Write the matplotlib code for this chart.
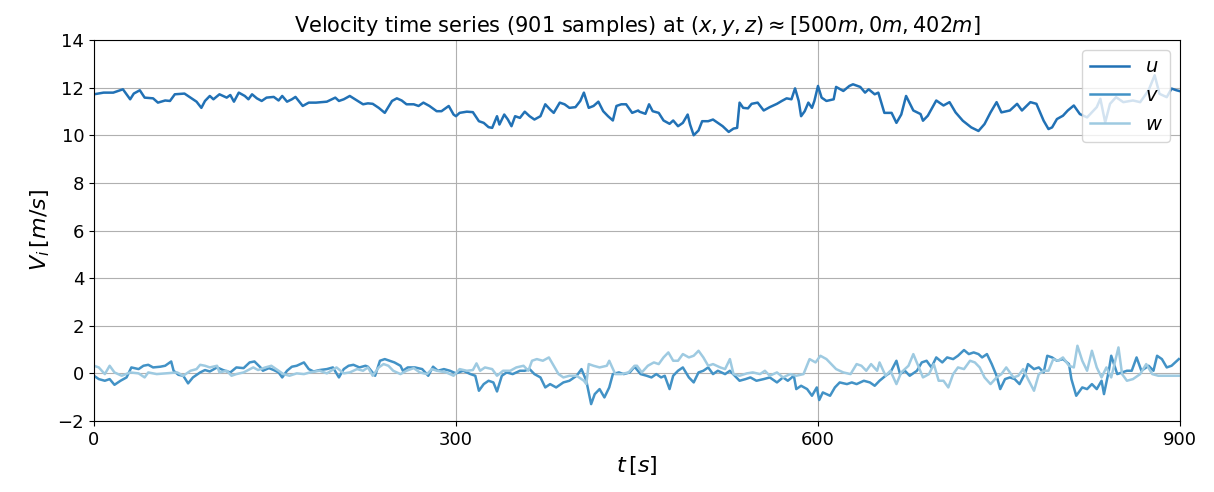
import matplotlib
matplotlib.use("Agg")
import matplotlib.pyplot as plt

# values (every few seconds)
u_t = [0, 8, 16, 24, 30, 33, 38, 42, 49, 53, 59, 63, 67, 75, 80, 85, 89, 92, 96, 99,
       104, 110, 113, 116, 120, 125, 128, 131, 135, 139, 143, 149, 153, 156, 160, 164, 167, 173, 178, 184,
       193, 200, 203, 207, 212, 218, 223, 227, 231, 236, 241, 247, 251, 255, 259, 265, 269, 273, 278, 284,
       288, 294, 298, 300, 303, 309, 314, 319, 323, 327, 330, 334, 336, 340, 343, 346, 349, 353, 357, 361,
       365, 370, 374, 378, 381, 386, 390, 394, 399, 403, 406, 410, 414, 418, 422, 426, 430, 433, 437, 441,
       446, 451, 452, 457, 460, 463, 468, 472, 477, 480, 484, 488, 492, 494, 497, 501, 504, 509, 513, 517,
       521, 526, 530, 533, 535, 538, 542, 545, 550, 555, 560, 566, 570, 574, 578, 581, 584, 586, 589, 592,
       595, 597, 600, 603, 607, 613, 615, 621, 626, 629, 635, 639, 642, 647, 650, 655, 661, 665, 669, 673,
       679, 685, 687, 691, 698, 704, 709, 714, 720, 727, 733, 738, 743, 748, 752, 759, 765, 769, 776, 781,
       787, 791, 794, 798, 803, 807, 812, 817, 823, 831, 834, 838, 842, 847, 853, 861, 867, 874, 879, 883,
       889, 893, 897, 900]
u_vals = [11.72, 11.79, 11.79, 11.93, 11.51, 11.75, 11.89, 11.58, 11.55, 11.37, 11.46, 11.44, 11.72, 11.75, 11.58, 11.41, 11.15, 11.44, 11.65, 11.51,
          11.72, 11.58, 11.69, 11.41, 11.79, 11.65, 11.51, 11.72, 11.55, 11.44, 11.58, 11.61, 11.46, 11.65, 11.41, 11.51, 11.61, 11.23, 11.37, 11.37,
          11.41, 11.58, 11.44, 11.51, 11.65, 11.46, 11.30, 11.34, 11.32, 11.15, 10.94, 11.44, 11.55, 11.46, 11.30, 11.30, 11.23, 11.37, 11.23, 11.01,
          11.01, 11.23, 10.87, 10.80, 10.94, 10.99, 10.97, 10.59, 10.52, 10.34, 10.31, 10.80, 10.45, 10.87, 10.66, 10.38, 10.80, 10.73, 10.99, 10.80,
          10.66, 10.80, 11.30, 11.08, 10.94, 11.37, 11.30, 11.15, 11.18, 11.44, 11.79, 11.15, 11.23, 11.41, 11.01, 10.80, 10.62, 11.23, 11.30, 11.30,
          10.94, 11.04, 10.99, 10.90, 11.30, 11.01, 10.94, 10.62, 10.48, 10.62, 10.38, 10.52, 10.87, 10.45, 10.00, 10.20, 10.59, 10.59, 10.66, 10.52,
          10.38, 10.14, 10.28, 10.31, 11.37, 11.15, 11.13, 11.32, 11.37, 11.04, 11.18, 11.32, 11.44, 11.55, 11.51, 11.97, 11.44, 10.80, 11.01, 11.37,
          11.15, 11.44, 12.07, 11.58, 11.44, 11.51, 12.03, 11.86, 12.07, 12.14, 12.03, 11.79, 11.93, 11.72, 11.79, 10.94, 10.94, 10.52, 10.87, 11.65,
          11.04, 10.89, 10.61, 10.82, 11.46, 11.25, 11.39, 10.96, 10.61, 10.33, 10.18, 10.47, 10.96, 11.39, 10.96, 11.04, 11.32, 11.04, 11.39, 11.32,
          10.61, 10.26, 10.33, 10.68, 10.82, 11.04, 11.25, 10.89, 10.75, 11.18, 11.53, 10.54, 11.32, 11.60, 11.39, 11.46, 11.39, 11.89, 12.52, 11.74,
          11.60, 11.96, 11.89, 11.85]

v_t = [0, 4, 9, 13, 17, 22, 27, 31, 37, 41, 45, 49, 55, 59, 64, 66, 70, 74, 78, 82,
       88, 92, 96, 102, 107, 113, 118, 124, 129, 133, 138, 140, 145, 149, 153, 156, 160, 164, 168, 174,
       178, 182, 187, 193, 198, 203, 207, 211, 215, 220, 225, 227, 233, 237, 241, 245, 249, 254, 256, 260,
       266, 272, 277, 281, 285, 290, 295, 300, 306, 312, 316, 319, 323, 327, 331, 334, 338, 342, 347, 353,
       357, 361, 365, 370, 374, 378, 383, 389, 394, 400, 404, 408, 412, 415, 419, 423, 427, 430, 435, 439,
       444, 448, 453, 458, 462, 466, 470, 473, 477, 480, 484, 488, 493, 497, 501, 505, 509, 513, 517, 523,
       527, 531, 535, 540, 544, 549, 555, 560, 566, 571, 575, 580, 582, 586, 591, 595, 599, 601, 604, 610,
       614, 618, 624, 628, 632, 638, 643, 647, 651, 656, 660, 665, 668, 672, 676, 682, 686, 690, 694, 698,
       703, 707, 712, 716, 721, 725, 729, 733, 736, 740, 744, 748, 751, 755, 759, 763, 767, 772, 774, 779,
       783, 787, 790, 794, 798, 803, 808, 810, 814, 819, 823, 827, 831, 835, 837, 841, 843, 848, 852, 856,
       860, 864, 868, 874, 878, 881, 885, 889, 893, 899]
v_vals = [-0.10, -0.24, -0.31, -0.24, -0.48, -0.31, -0.17, 0.25, 0.18, 0.32, 0.36, 0.25, 0.28, 0.32, 0.50, 0.11, -0.06, -0.10, -0.42, -0.17,
          0.04, 0.14, 0.08, 0.25, 0.14, 0.04, 0.25, 0.22, 0.46, 0.50, 0.25, 0.11, 0.22, 0.14, 0.04, -0.17, 0.11, 0.28, 0.32, 0.46,
          0.18, 0.08, 0.14, 0.18, 0.25, -0.17, 0.18, 0.32, 0.36, 0.25, 0.32, 0.28, -0.10, 0.53, 0.60, 0.53, 0.46, 0.32, 0.11, 0.25,
          0.25, 0.18, -0.10, 0.28, 0.11, 0.18, 0.11, 0.00, 0.11, -0.03, -0.10, -0.73, -0.45, -0.31, -0.38, -0.76, -0.10, 0.04, -0.03, 0.11,
          0.11, 0.18, -0.03, -0.17, -0.59, -0.45, -0.59, -0.38, -0.31, -0.10, 0.18, -0.31, -1.29, -0.87, -0.66, -1.01, -0.59, -0.03, 0.04, -0.03,
          0.04, 0.28, -0.03, -0.10, -0.17, -0.03, -0.17, -0.10, -0.66, -0.10, 0.11, 0.25, -0.17, -0.38, 0.04, 0.11, 0.25, -0.03, 0.11, -0.03,
          0.11, -0.10, -0.31, -0.24, -0.17, -0.31, -0.24, -0.17, -0.38, -0.17, -0.31, -0.10, -0.66, -0.52, -0.66, -0.94, -0.59, -1.12, -0.80, -0.94,
          -0.59, -0.38, -0.45, -0.38, -0.45, -0.31, -0.38, -0.52, -0.31, -0.10, 0.04, 0.53, -0.03, 0.11, -0.10, 0.11, 0.46, 0.53, 0.25, 0.67,
          0.46, 0.67, 0.60, 0.74, 0.98, 0.81, 0.88, 0.81, 0.67, 0.81, 0.39, -0.10, -0.66, -0.24, -0.17, -0.24, -0.45, 0.04, 0.39, 0.18,
          0.25, 0.04, 0.74, 0.67, 0.53, 0.60, 0.39, -0.24, -0.94, -0.59, -0.66, -0.45, -0.66, -0.31, -0.87, 0.11, 0.74, -0.03, 0.04, 0.11,
          0.11, 0.67, 0.11, 0.32, 0.11, 0.74, 0.60, 0.25, 0.32, 0.60]

w_t = [0, 4, 9, 13, 17, 23, 30, 37, 42, 45, 52, 59, 69, 74, 80, 85, 88, 92, 96, 102,
       104, 110, 114, 118, 124, 132, 136, 142, 147, 151, 157, 162, 168, 174, 179, 187, 193, 201, 207, 212,
       218, 223, 227, 231, 236, 240, 244, 248, 254, 259, 265, 270, 276, 280, 284, 292, 298, 303, 309, 314,
       317, 320, 324, 330, 334, 339, 345, 350, 356, 360, 363, 367, 372, 377, 381, 385, 389, 394, 400, 406,
       408, 410, 414, 419, 425, 427, 432, 437, 443, 448, 450, 454, 459, 464, 468, 472, 476, 480, 484, 488,
       493, 497, 501, 505, 509, 513, 519, 523, 527, 530, 535, 541, 546, 552, 556, 560, 566, 571, 577, 582,
       588, 593, 598, 602, 607, 611, 615, 621, 627, 632, 636, 640, 644, 649, 651, 656, 660, 665, 669, 675,
       679, 683, 687, 692, 696, 700, 704, 708, 712, 716, 721, 726, 730, 734, 738, 743, 748, 752, 756, 762,
       766, 770, 774, 779, 783, 787, 791, 795, 799, 803, 808, 812, 815, 819, 823, 827, 831, 835, 839, 843,
       849, 852, 856, 861, 867, 872, 877, 882, 889, 899, 900]
w_vals = [0.32, 0.25, -0.03, 0.32, 0.04, -0.10, 0.04, 0.00, -0.17, 0.04, -0.03, 0.00, 0.04, -0.10, 0.11, 0.18, 0.36, 0.32, 0.25, 0.32,
          0.04, 0.11, -0.10, -0.03, 0.04, 0.25, 0.14, 0.25, 0.32, 0.18, -0.03, -0.10, 0.00, -0.03, 0.04, 0.11, 0.00, 0.25, 0.00, 0.04,
          0.18, 0.11, 0.25, -0.10, 0.25, 0.39, 0.32, 0.11, -0.03, 0.11, 0.22, 0.04, -0.03, 0.18, 0.11, 0.04, -0.10, 0.18, 0.11, 0.14,
          0.42, 0.11, 0.25, 0.18, -0.10, 0.11, 0.11, 0.25, 0.32, 0.11, 0.53, 0.60, 0.53, 0.67, 0.32, -0.03, -0.17, -0.10, -0.10, -0.31,
          -0.45, 0.39, 0.32, 0.25, 0.32, 0.53, -0.03, -0.03, 0.04, 0.32, 0.32, 0.04, 0.32, 0.46, 0.39, 0.67, 0.88, 0.53, 0.53, 0.81,
          0.67, 0.74, 0.95, 0.67, 0.32, 0.39, 0.25, 0.18, 0.60, -0.03, -0.10, 0.00, 0.04, -0.03, 0.11, -0.10, 0.04, -0.17, -0.03, -0.10,
          -0.03, 0.60, 0.46, 0.74, 0.60, 0.39, 0.18, 0.04, -0.03, 0.39, 0.32, 0.11, 0.39, 0.11, 0.46, -0.10, 0.11, -0.45, 0.04, 0.32,
          0.81, 0.32, -0.17, -0.03, 0.39, -0.31, -0.31, -0.59, -0.03, 0.25, 0.18, 0.53, 0.46, 0.25, -0.17, -0.45, -0.17, -0.03, 0.25, -0.17,
          -0.10, 0.18, -0.24, -0.73, -0.03, 0.11, 0.11, 0.60, 0.53, 0.67, 0.32, 0.25, 1.16, 0.53, 0.11, 0.95, 0.25, -0.17, 0.25, -0.17,
          1.09, -0.03, -0.31, -0.24, -0.03, 0.39, -0.03, -0.10, -0.10, -0.10, -0.10]

series = [("$u$", u_t, u_vals, "#2171b5"),
          ("$v$", v_t, v_vals, "#4292c6"),
          ("$w$", w_t, w_vals, "#9ecae1")]

fig = plt.figure(figsize=(12.14, 4.92), dpi=100)
ax = fig.add_axes([0.0774, 0.1443, 0.8946, 0.7744])

for label, t, vals, col in series:
    ax.plot(t, vals, color=col, lw=1.8, label=label)

ax.set_xlim(0, 900)
ax.set_ylim(-2, 14)
ax.set_xticks([0, 300, 600, 900])
ax.set_yticks(range(-2, 15, 2))
ax.tick_params(labelsize=13)
ax.grid(True, color="#b0b0b0", lw=0.8)
ax.set_xlabel(r"$t\,[s]$", fontsize=16)
ax.set_ylabel(r"$V_i\,[m/s]$", fontsize=16)
ax.set_title(r"Velocity time series (901 samples) at $(x,y,z) \approx [500m, 0m, 402m]$", fontsize=15)
ax.legend(loc="upper right", fontsize=14)

fig.savefig("out.png", dpi=100)
